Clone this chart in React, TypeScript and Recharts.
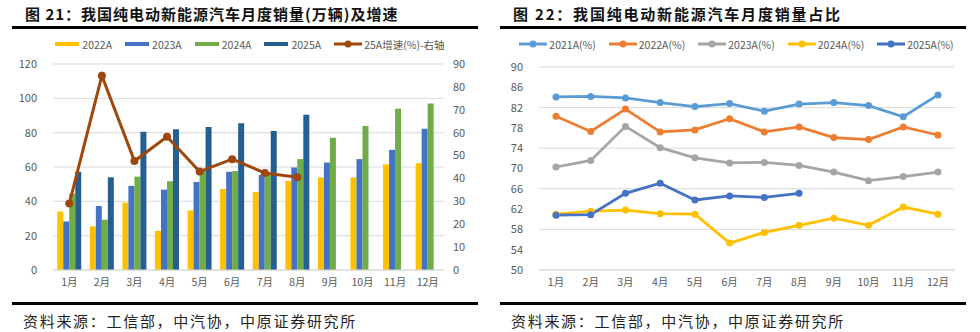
import React from "react";
import {
  ComposedChart,
  LineChart,
  Bar,
  Line,
  XAxis,
  YAxis,
  CartesianGrid,
} from "recharts";

const months = ["1月", "2月", "3月", "4月", "5月", "6月", "7月", "8月", "9月", "10月", "11月", "12月"];

// 图21: 纯电动销量(万辆)
const sales2022 = [34.1, 25.4, 39.2, 22.8, 34.7, 47.2, 45.5, 51.9, 53.9, 53.9, 61.5, 62.2];
const sales2023 = [28.3, 37.3, 49.0, 46.8, 51.3, 57.2, 55.4, 59.7, 62.6, 64.6, 70.0, 82.3];
const sales2024 = [44.5, 29.3, 54.4, 51.7, 58.0, 57.6, 55.6, 64.6, 77.0, 83.9, 93.9, 97.0];
const sales2025 = [57.2, 54.0, 80.6, 82.0, 83.3, 85.5, 81.0, 90.5, null, null, null, null];
const growth2025 = [29.0, 84.9, 47.6, 58.2, 43.0, 48.4, 42.4, 40.5, null, null, null, null];
const leftTicks = [0, 20, 40, 60, 80, 100, 120];
const rightTicks = [0, 10, 20, 30, 40, 50, 60, 70, 80, 90];

// 图22: 纯电动占比(%)
const share2021 = [84.1, 84.2, 83.9, 83.0, 82.2, 82.8, 81.3, 82.7, 83.0, 82.4, 80.2, 84.5];
const share2022 = [80.3, 77.3, 81.7, 77.2, 77.6, 79.8, 77.2, 78.2, 76.1, 75.7, 78.2, 76.6];
const share2023 = [70.3, 71.6, 78.3, 74.1, 72.1, 71.1, 71.2, 70.6, 69.3, 67.6, 68.4, 69.3];
const share2024 = [61.0, 61.6, 61.8, 61.1, 61.0, 55.3, 57.4, 58.8, 60.2, 58.8, 62.4, 61.0];
const share2025 = [60.8, 60.9, 65.1, 67.1, 63.8, 64.6, 64.3, 65.1, null, null, null, null];
const shareTicks = [50, 54, 58, 62, 66, 70, 74, 78, 82, 86, 90];

const barSeries = [
  { key: "s2022", name: "2022A", color: "#FFC000" },
  { key: "s2023", name: "2023A", color: "#4472C4" },
  { key: "s2024", name: "2024A", color: "#70AD47" },
  { key: "s2025", name: "2025A", color: "#255E91" },
];
const growthColor = "#9E480E";

const shareSeries = [
  { key: "r2021", name: "2021A(%)", color: "#5B9BD5" },
  { key: "r2022", name: "2022A(%)", color: "#ED7D31" },
  { key: "r2023", name: "2023A(%)", color: "#A5A5A5" },
  { key: "r2024", name: "2024A(%)", color: "#FFC000" },
  { key: "r2025", name: "2025A(%)", color: "#4472C4" },
];

const salesData = months.map((m, i) => ({
  month: m,
  s2022: sales2022[i],
  s2023: sales2023[i],
  s2024: sales2024[i],
  s2025: sales2025[i],
  growth: growth2025[i],
}));

const shareData = months.map((m, i) => ({
  month: m,
  r2021: share2021[i],
  r2022: share2022[i],
  r2023: share2023[i],
  r2024: share2024[i],
  r2025: share2025[i],
}));

const FONT = '"Noto Sans CJK SC", "Noto Sans", sans-serif';
const GRAY = "#595959";
const tick = { fontSize: 11, fill: GRAY };
const xTick = { fontSize: 10.5, fill: GRAY };

function Rule({ left, top, width }: { left: number; top: number; width: number }) {
  return <div style={{ position: "absolute", left, top, width, height: 3, background: "#000" }} />;
}

function Title({ left, text, spacing }: { left: number; text: string; spacing: number }) {
  return (
    <div style={{ position: "absolute", left, top: 4, fontSize: 15, fontWeight: 700, lineHeight: "20px", letterSpacing: spacing, color: "#111", whiteSpace: "nowrap" }}>
      {text}
    </div>
  );
}

function Source({ left }: { left: number }) {
  return (
    <div style={{ position: "absolute", left, top: 311, fontSize: 15, lineHeight: "20px", letterSpacing: 1.7, color: "#222", whiteSpace: "nowrap" }}>
      资料来源：工信部，中汽协，中原证券研究所
    </div>
  );
}

function LegendRow({ left, width, children }: { left: number; width: number; children: React.ReactNode }) {
  return (
    <div style={{ position: "absolute", left, top: 36, width, height: 16, display: "flex", justifyContent: "center", alignItems: "center", gap: 13, fontSize: 10.5, color: GRAY, whiteSpace: "nowrap" }}>
      {children}
    </div>
  );
}

function LineSwatch({ color, dot }: { color: string; dot: number }) {
  return (
    <svg width={28} height={10} style={{ marginRight: 2 }}>
      <line x1={0} y1={5} x2={28} y2={5} stroke={color} strokeWidth={3} />
      <circle cx={14} cy={5} r={dot} fill={color} />
    </svg>
  );
}

export default function App() {
  return (
    <div style={{ position: "fixed", left: 0, top: 0, width: 980, height: 332, background: "#fff", fontFamily: FONT, overflow: "hidden" }}>
      <Title left={25} spacing={1} text="图 21：我国纯电动新能源汽车月度销量(万辆)及增速" />
      <Title left={513} spacing={1.8} text="图 22：我国纯电动新能源汽车月度销量占比" />
      <Rule left={12} top={26} width={466} />
      <Rule left={500} top={26} width={466} />

      <LegendRow left={0} width={500}>
        {barSeries.map((s) => (
          <span key={s.key} style={{ display: "flex", alignItems: "center" }}>
            <span style={{ display: "inline-block", width: 24, height: 4, background: s.color, marginRight: 3 }} />
            {s.name}
          </span>
        ))}
        <span style={{ display: "flex", alignItems: "center" }}>
          <LineSwatch color={growthColor} dot={3.5} />
          25A增速(%)-右轴
        </span>
      </LegendRow>

      <LegendRow left={490} width={493}>
        {shareSeries.map((s) => (
          <span key={s.key} style={{ display: "flex", alignItems: "center" }}>
            <LineSwatch color={s.color} dot={3.5} />
            {s.name}
          </span>
        ))}
      </LegendRow>

      <div style={{ position: "absolute", left: 0, top: 0 }}>
        <ComposedChart
          width={490}
          height={332}
          data={salesData}
          margin={{ top: 64, right: 0, bottom: 42, left: 0 }}
          barGap={0}
          barCategoryGap="13%"
        >
          <CartesianGrid vertical={false} stroke="#D9D9D9" />
          <XAxis dataKey="month" tick={xTick} tickLine={false} axisLine={{ stroke: "#D9D9D9" }} tickMargin={3} height={20} interval={0} />
          <YAxis domain={[0, 120]} ticks={leftTicks} tick={tick} axisLine={false} tickLine={false} tickMargin={10} width={53} />
          <YAxis yAxisId="right" orientation="right" domain={[0, 90]} ticks={rightTicks} tick={tick} axisLine={false} tickLine={false} tickMargin={3} width={46} />
          {barSeries.map((s) => (
            <Bar key={s.key} dataKey={s.key} name={s.name} fill={s.color} isAnimationActive={false} />
          ))}
          <Line
            yAxisId="right"
            dataKey="growth"
            name="25A增速(%)-右轴"
            stroke={growthColor}
            strokeWidth={3}
            dot={{ r: 4, fill: growthColor, stroke: growthColor, strokeWidth: 0 }}
            isAnimationActive={false}
          />
        </ComposedChart>
      </div>

      <div style={{ position: "absolute", left: 490, top: 0 }}>
        <LineChart width={490} height={332} data={shareData} margin={{ top: 67, right: 25, bottom: 42, left: 0 }}>
          <CartesianGrid vertical={false} stroke="#D9D9D9" />
          <XAxis dataKey="month" tick={xTick} tickLine={false} axisLine={{ stroke: "#D9D9D9" }} tickMargin={3} height={20} interval={0} padding={{ left: 17, right: 17 }} />
          <YAxis domain={[50, 90]} ticks={shareTicks} tick={tick} axisLine={false} tickLine={false} tickMargin={10} width={49} />
          {shareSeries.map((s) => (
            <Line
              key={s.key}
              dataKey={s.key}
              name={s.name}
              stroke={s.color}
              strokeWidth={2.75}
              dot={{ r: 3.5, fill: s.color, stroke: s.color, strokeWidth: 0 }}
              isAnimationActive={false}
            />
          ))}
        </LineChart>
      </div>

      <Rule left={12} top={302} width={466} />
      <Rule left={500} top={302} width={466} />
      <Source left={23} />
      <Source left={511} />
    </div>
  );
}
